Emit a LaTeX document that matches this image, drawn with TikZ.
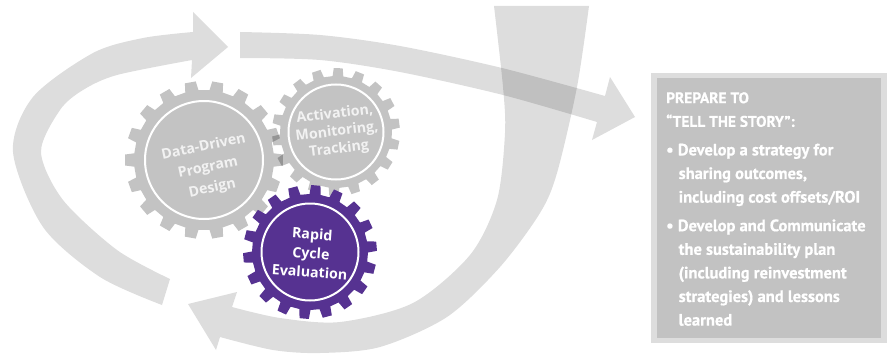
\documentclass[tikz,border=0pt]{standalone}
\usepackage{fontspec}
\usepackage{xcolor}
\setmainfont{Open Sans}
\newfontfamily\boxFont{PT Sans}[BoldFeatures={FakeBold=0.6}]
\usetikzlibrary{calc}
\definecolor{flowGrey}{HTML}{000000}
\definecolor{boxEdge}{HTML}{DDDDDD}
\definecolor{boxFace}{HTML}{C2C2C2}
\definecolor{gearPurple}{HTML}{563291}
\definecolor{paleText}{HTML}{F2F2F2}
\tikzset{
  flowArrow/.style={fill=flowGrey, fill opacity=0.133},
  gearGrey/.style={fill=black, fill opacity=0.235},
  gearDark/.style={fill=gearPurple},
  gearRing/.style={circle, draw=white, line width=2pt, inner sep=0pt},
  gearLabel/.style={inner sep=0pt, align=center},
  boxText/.style={text=white, font=\fontsize{16.5}{23.6}\selectfont\boxFont\bfseries, align=left, anchor=north west, inner sep=0pt}
}
% centre, root radius, tip radius, turn, style
\newcommand{\gearShape}[5]{
  \begin{scope}[shift={#1}, rotate=#4]
    \fill[#5] (-5.5:#2)
      \foreach \a in {0,20,...,340} {
        -- ({\a-5.5}:#2) -- ({\a-4}:#3) -- ({\a+4}:#3) -- ({\a+5.5}:#2)
      } -- cycle;
  \end{scope}
}
\newcommand{\hangLine}{\hspace*{12.5pt}}
\newcommand{\headLine}[1]{{\fontsize{15.4}{23.6}\selectfont #1}}

\begin{document}
\begin{tikzpicture}[x=1pt,y=-1pt]
  \useasboundingbox (0,0) rectangle (890,353);

  % left loop
  \fill[flowArrow] plot[smooth] coordinates {(162,305) (100,277) (43,227) (13,152) (33,97) (93,53) (143,38) (193,32)}
    -- (193,12) -- (228,47) -- (191,78) -- (192,60)
    -- plot[smooth] coordinates {(192,60) (117,75) (83,90) (60,110) (41,152) (63,200) (117,250) (170,279)} -- cycle;

  % top arrow
  \fill[flowArrow] plot[smooth] coordinates {(240,32) (320,35) (400,46) (502,68) (605,96)}
    -- (610,77) -- (635,117) -- (592,140) -- (597,122)
    -- plot[smooth] coordinates {(597,122) (503,95) (400,72) (320,60) (240,58)} -- cycle;

  % big return arrow
  \fill[flowArrow] plot[smooth] coordinates {(589,6) (577,87) (557,173) (540,213) (500,267) (447,317) (380,347) (320,353) (273,350) (220,337)}
    -- (216,350) -- (188,304) -- (237,292) -- (232,307)
    -- plot[smooth] coordinates {(232,307) (280,318) (340,322) (413,303) (470,255) (497,200) (505,133) (503,87) (494,6)} -- cycle;

  \gearShape{(204,160)}{70}{79}{0}{gearGrey}
  \gearShape{(336,132)}{56}{64}{8}{gearGrey}
  \gearShape{(310,252)}{58}{67}{5}{gearDark}

  \node[gearRing, minimum size=118pt] (designRing) at (204,160) {};
  \node[gearRing, minimum size=95pt] (activationRing) at (336,132) {};
  \node[gearRing, minimum size=97pt] (evaluationRing) at (310,252) {};

  \node[gearLabel, rotate=12, text=paleText, font=\fontsize{14.2}{21}\selectfont\bfseries] (designLabel) at (208,168) {Data-Driven\\Program\\Design};
  \node[gearLabel, rotate=7, text=paleText, font=\fontsize{14.2}{17.5}\selectfont\bfseries] (activationLabel) at (337,132) {Activation,\\Monitoring,\\Tracking};
  \node[gearLabel, rotate=-4, text=white, font=\fontsize{14.2}{19}\selectfont\bfseries] (evaluationLabel) at (311,253) {Rapid\\Cycle\\Evaluation};

  \fill[boxEdge] (651,73) rectangle (887,343);
  \fill[boxFace] (657,78) rectangle (881,338);

  \node[boxText] (storyText) at (666,92) {\headLine{PREPARE TO}\\
    \headLine{“TELL THE STORY”:}\\[5pt]
    \textbullet\ Develop a strategy for\\
    \hangLine sharing outcomes,\\
    \hangLine including cost offsets/ROI\\[5pt]
    \textbullet\ Develop and Communicate\\
    \hangLine the sustainability plan\\
    \hangLine (including reinvestment\\
    \hangLine strategies) and lessons\\
    \hangLine learned};
\end{tikzpicture}
\end{document}
